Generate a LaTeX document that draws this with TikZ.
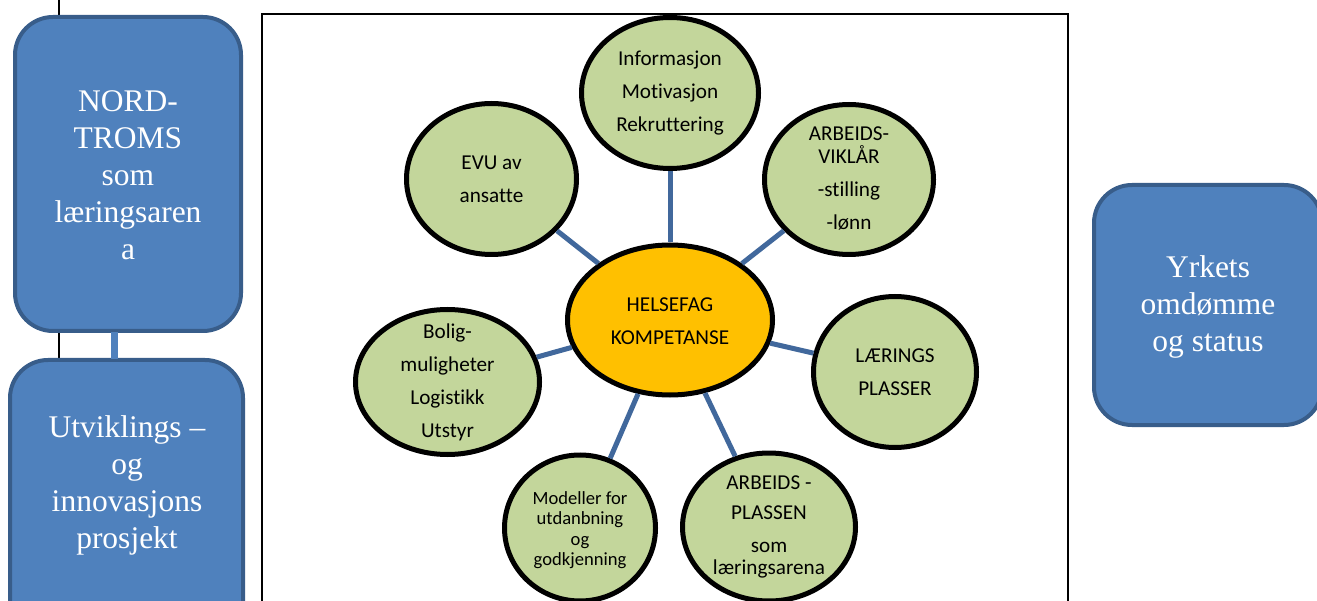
\documentclass[tikz,border=0pt]{standalone}
\usepackage{fontspec}
\setmainfont{Liberation Serif}
\newfontfamily\calfont[Ligatures=NoCommon]{Carlito}
\usetikzlibrary{shapes.geometric}

\definecolor{boxfill}{HTML}{4F81BD}
\definecolor{boxline}{HTML}{385D8A}
\definecolor{bubble}{HTML}{C3D69B}
\definecolor{core}{HTML}{FFC000}
\definecolor{spoke}{HTML}{41689C}

\begin{document}
\begin{tikzpicture}[x=1pt,y=-1pt,
  panel/.style={rectangle, draw=boxline, fill=boxfill, line width=4pt, rounded corners=38pt, inner sep=0pt},
  paneltext/.style={text=white, font=\fontsize{31.5}{37}\selectfont, align=center, inner sep=0pt},
  bubblenode/.style={ellipse, draw=black, line width=5pt, fill=bubble, inner sep=0pt},
  bubbletext/.style={font=\calfont\fontsize{21.2}{33}\selectfont, align=center, text=black, inner sep=0pt},
  spokeline/.style={draw=spoke, line width=5pt},
  frameline/.style={draw=black, line width=1.5pt}]

\useasboundingbox (0,0) rectangle (1317,601);
\clip (0,0) rectangle (1317,601);
\fill[white] (0,0) rectangle (1317,601);

% thin rules behind the panels and the frame round the concept map
\coordinate (rtop) at (59,0);
\coordinate (rbot) at (59,601);
\draw[frameline] (rtop) -- (rbot);
\coordinate (f1) at (262,640);
\coordinate (f2) at (262,14);
\coordinate (f3) at (1068,14);
\coordinate (f4) at (1068,640);
\draw[frameline] (f1) -- (f2) -- (f3) -- (f4);

% side panels
\node[panel, minimum width=226pt, minimum height=314pt] (nord) at (128,174) {};
\node[panel, minimum width=233pt, minimum height=314pt] (utv) at (126.5,517) {};
\node[panel, minimum width=228pt, minimum height=240pt] (yrke) at (1208,305) {};
\draw[draw=boxfill, line width=7pt] ([xshift=-13.5pt,yshift=1pt]nord.south) -- ([xshift=-12pt,yshift=-1pt]utv.north);

\node[paneltext] (nordtxt) at (128,175) {NORD-\\TROMS\\som\\læringsaren\\a};
\node[paneltext] (utvtxt) at (127,485) {Utviklings –\\og\\innovasjons\\prosjekt};
\node[paneltext] (yrketxt) at (1208,307) {Yrkets\\omdømme\\og status};

% concept map
\node[bubblenode, fill=core, minimum width=205pt, minimum height=150pt] (helse) at (670,320) {};
\node[bubblenode, minimum width=177pt, minimum height=151pt] (info) at (670,93) {};
\node[bubblenode, minimum width=170pt, minimum height=151pt] (evu) at (491.5,179) {};
\node[bubblenode, minimum width=169pt, minimum height=150pt] (vilkar) at (849,179.5) {};
\node[bubblenode, minimum width=163pt, minimum height=151pt] (laer) at (895,372) {};
\node[bubblenode, minimum width=173pt, minimum height=148pt] (plass) at (769,527) {};
\node[bubblenode, minimum width=151pt, minimum height=146pt] (model) at (580,528) {};
\node[bubblenode, minimum width=184pt, minimum height=145pt] (bolig) at (447.5,382) {};

\begin{scope}[spokeline]
  \draw (helse.north) -- (info.south);
  \draw (helse) -- (evu);
  \draw (helse) -- (vilkar);
  \draw (helse) -- (laer);
  \draw (helse) -- (plass);
  \draw (helse) -- (model);
  \draw (helse) -- (bolig);
\end{scope}

\node[bubbletext] (helsetxt) at (670,321) {HELSEFAG\\KOMPETANSE};
\node[bubbletext] (infotxt) at (670,93) {Informasjon\\Motivasjon\\Rekruttering};
\node[bubbletext] (evutxt) at (491.5,179) {EVU av\\ansatte};
\node[bubbletext] (vilkartxt) at (849,179) {ARBEIDS-\\[-10pt]VIKLÅR\\-stilling\\-lønn};
\node[bubbletext] (laertxt) at (895,372) {LÆRINGS\\PLASSER};
\node[bubbletext] (plasstxt) at (769,527) {ARBEIDS -\\[-3pt]PLASSEN\\som\\[-11pt]læringsarena};
\node[bubbletext, font=\calfont\fontsize{18.6}{20.5}\selectfont] (modeltxt) at (580,530) {Modeller for\\utdanbning\\og\\godkjenning};
\node[bubbletext] (boligtxt) at (447.5,382.5) {Bolig-\\muligheter\\Logistikk\\Utstyr};
\end{tikzpicture}
\end{document}
